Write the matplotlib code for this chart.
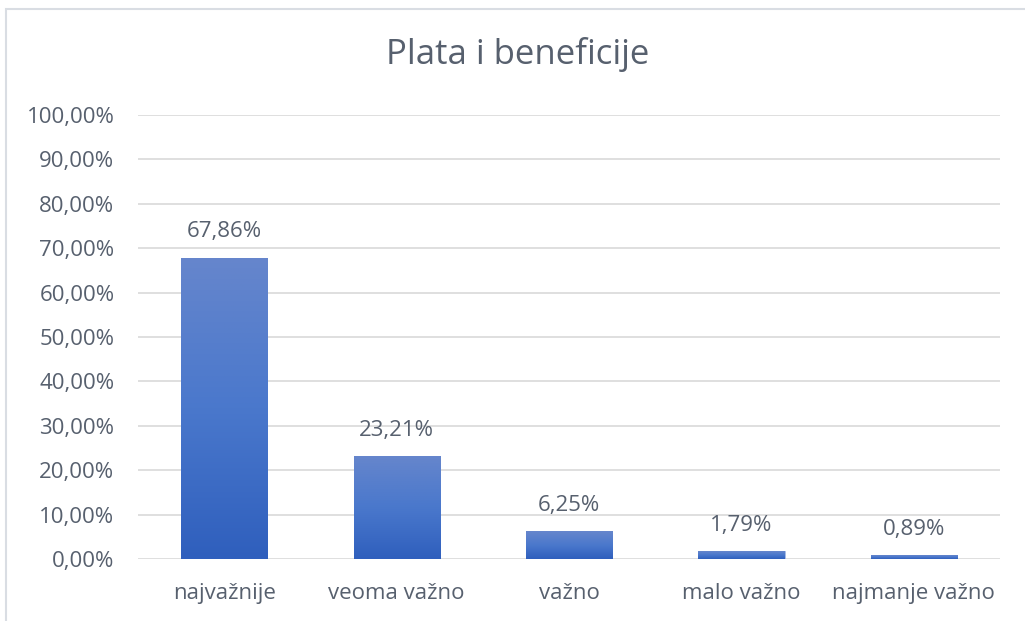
import numpy as np
import matplotlib.pyplot as plt
from matplotlib.colors import LinearSegmentedColormap
from matplotlib.patches import Rectangle
from matplotlib.ticker import FuncFormatter

categories = ["najvažnije", "veoma važno", "važno", "malo važno", "najmanje važno"]
values = [67.86, 23.21, 6.25, 1.79, 0.89]
title = "Plata i beneficije"

plt.rcParams['font.family'] = ['Open Sans', 'DejaVu Sans']
txt = '#57606e'

fig = plt.figure(figsize=(10.25, 6.21), dpi=100)
# chart border (only top/left visible in the crop)
fig.patches.append(Rectangle((6 / 1025, -0.1), 1.2, 1 - 9 / 621 + 0.1, transform=fig.transFigure,
                             fill=False, edgecolor='#d9dde3', lw=1.5, zorder=0))

ax = fig.add_axes([138 / 1025, 1 - 559 / 621, 862 / 1025, 444 / 621])
x = np.arange(len(categories))
bars = ax.bar(x, values, width=0.5, color='#4472c4', edgecolor='#a9bde6', lw=0.6, zorder=2)

# vertical gradient fill, lighter at top
cmap = LinearSegmentedColormap.from_list('g', ['#2f5fbd', '#4a78cc', '#6686cc'])
grad = np.linspace(0, 1, 256).reshape(-1, 1)
for b in bars:
    im = ax.imshow(grad, cmap=cmap, origin='lower', aspect='auto', zorder=2.5,
                   extent=[b.get_x(), b.get_x() + b.get_width(), 0, b.get_height()])
    im.set_clip_path(b)

for xi, v in zip(x, values):
    ax.annotate(f"{v:.2f}%".replace('.', ','), (xi, v), xytext=(0, 11), textcoords='offset points',
                ha='center', va='bottom', fontsize=16, color=txt)

ax.set_xlim(-0.5, len(categories) - 0.5)
ax.set_ylim(0, 100)
ax.set_yticks(np.arange(0, 101, 10))
ax.yaxis.set_major_formatter(FuncFormatter(lambda v, p: f"{v:.2f}%".replace('.', ',')))
ax.set_xticks(x)
ax.set_xticklabels(categories)
ax.tick_params(axis='both', length=0, labelsize=16, labelcolor=txt)
ax.tick_params(axis='y', pad=17)
ax.tick_params(axis='x', pad=17)
ax.grid(axis='y', color='#d9d9d9', lw=1.2, zorder=0)
ax.set_axisbelow(True)
for s in ax.spines.values():
    s.set_visible(False)

fig.text(518 / 1025, 1 - 55 / 621, title, ha='center', va='center', fontsize=25, color=txt)

fig.savefig('out.png', dpi=100)
